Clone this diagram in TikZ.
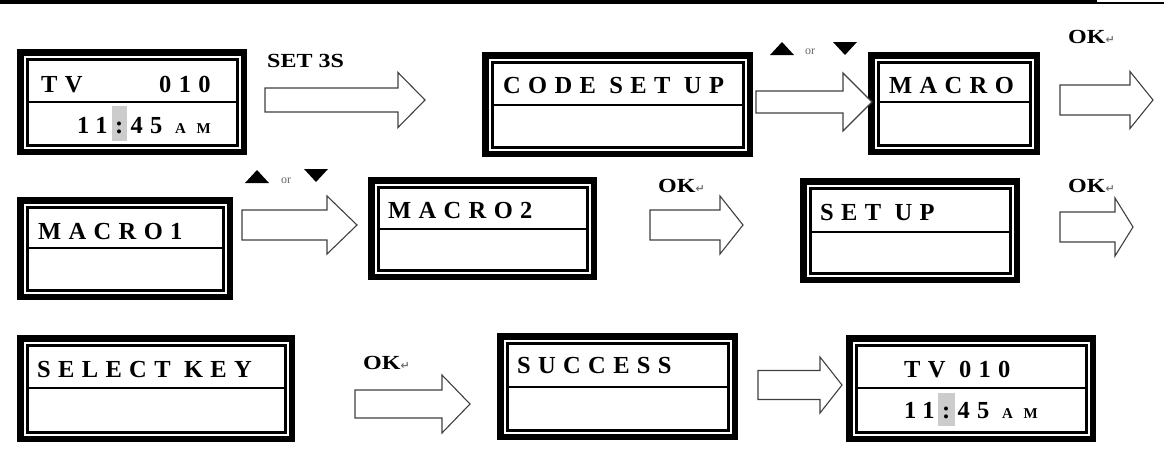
\documentclass[tikz,border=0pt]{standalone}
\usepackage{fontspec}
\setmainfont{Liberation Serif}
\newfontfamily\lcdfont{Liberation Serif}[LetterSpace=30]
\newfontfamily\amfont{Liberation Serif}[LetterSpace=70]
\newfontfamily\lblfont{Liberation Serif}[FakeStretch=1.2]
\newfontfamily\symfont{DejaVu Sans}
\tikzset{
  lcdframe/.style={draw=black, line width=6.5pt, rectangle, inner sep=0pt},
  lcdinner/.style={draw=black, line width=3pt},
  lcddiv/.style={draw=black, line width=2.5pt},
  lcdtext/.style={anchor=base west, inner sep=0pt, font=\lcdfont\bfseries\fontsize{24.5}{28}\selectfont},
  amtext/.style={anchor=base west, inner sep=0pt, font=\amfont\bfseries\fontsize{15}{18}\selectfont},
  lbl/.style={anchor=base west, inner sep=0pt, font=\lblfont\bfseries\fontsize{20}{24}\selectfont},
  ortext/.style={anchor=base west, inner sep=0pt, text=black!60, font=\fontsize{12}{14}\selectfont},
  blockarr/.style={draw=black!75, line width=1.1pt, fill=white, line join=miter},
  hilite/.style={fill=black!20},
}
\newcommand\retsym{{\symfont\fontsize{11}{11}\selectfont\textcolor{black!55}{↵}}}
\newcommand\lcdbox[6]{%
  \node[lcdframe, minimum width={#4-#2-6.5}, minimum height={#5-#3-6.5}] (#1) at ({(#2+#4)/2},{(#3+#5)/2}) {};
  \draw[lcdinner] ({#2+10},{#3+10}) rectangle ({#4-10},{#5-10});
  \draw[lcddiv] ({#2+10},#6) -- ({#4-10},#6);
}
\newcommand\blockarrow[6]{%
  \draw[blockarr] (#1,{#4-#5}) -- (#2,{#4-#5}) -- (#2,{#4-#6}) -- (#3,#4) -- (#2,{#4+#6}) -- (#2,{#4+#5}) -- (#1,{#4+#5}) -- cycle;
}
\newcommand\uptri[2]{\fill (#1,#2) -- ({#1+24},#2) -- ({#1+12},{#2-13}) -- cycle;}
\newcommand\downtri[2]{\fill (#1,{#2-13}) -- ({#1+24},{#2-13}) -- ({#1+12},#2) -- cycle;}
\begin{document}
\begin{tikzpicture}[x=1pt,y=-1pt]
\useasboundingbox (0,0) rectangle (1164,453);
% header rule
\fill (0,0) rectangle (1097,4);
\fill (1097,2) rectangle (1164,3.5);

% highlights
\fill[hilite] (112,106) rectangle (127,141);
\fill[hilite] (938,393) rectangle (955,426);

% boxes
\lcdbox{b1}{17}{49}{247}{155}{102}
\lcdbox{b2}{482}{52}{753}{157}{105}
\lcdbox{b3}{868}{52}{1040}{155}{102}
\lcdbox{b4}{17}{197}{233}{300}{248}
\lcdbox{b5}{368}{177}{597}{280}{229}
\lcdbox{b6}{800}{178}{1020}{283}{232}
\lcdbox{b7}{17}{335}{295}{442}{388}
\lcdbox{b8}{497}{333}{738}{440}{387}
\lcdbox{b9}{846}{335}{1096}{442}{388}

% box texts
\node[lcdtext] (t1a) at (41,92) {TV};
\node[lcdtext] (t1b) at (159,92) {010};
\node[lcdtext] (t1c) at (77,133) {11:45};
\node[amtext] (t1d) at (175,133) {AM};
\node[lcdtext] (t2) at (503,93) {CODE SET UP};
\node[lcdtext] (t3) at (889,93) {MACRO};
\node[lcdtext] (t4) at (38,239) {MACRO1};
\node[lcdtext] (t5) at (388,218) {MACRO2};
\node[lcdtext] (t6) at (820,220) {SET UP};
\node[lcdtext] (t7) at (37,377) {SELECT KEY};
\node[lcdtext] (t8) at (517,373) {SUCCESS};
\node[lcdtext] (t9a) at (904,377) {TV 010};
\node[lcdtext] (t9b) at (904,418) {11:45};
\node[amtext] (t9c) at (1002,418) {AM};

% block arrows
\blockarrow{265}{398}{425}{100}{12}{27.5}
\blockarrow{756}{843}{872}{102}{11}{29}
\blockarrow{1060}{1130}{1153}{100}{15}{28.5}
\blockarrow{242}{327}{357}{225}{15}{29}
\blockarrow{650}{720}{743}{225}{15}{29}
\blockarrow{1060}{1115}{1133}{227}{15}{29}
\blockarrow{355}{442}{470}{404}{14}{29}
\blockarrow{758}{820}{842}{385}{14.5}{28}

% labels
\node[lbl] (l1) at (267,67) {SET 3S};
\uptri{770}{55}
\node[ortext] (l2) at (805,54) {or};
\downtri{833}{55}
\node[lbl] (l3) at (1068,43) {OK\retsym};
\uptri{245}{183}
\node[ortext] (l4) at (281,183) {or};
\downtri{304}{182}
\node[lbl] (l5) at (658,192) {OK\retsym};
\node[lbl] (l6) at (1068,192) {OK\retsym};
\node[lbl] (l7) at (363,369) {OK\retsym};
\end{tikzpicture}
\end{document}
